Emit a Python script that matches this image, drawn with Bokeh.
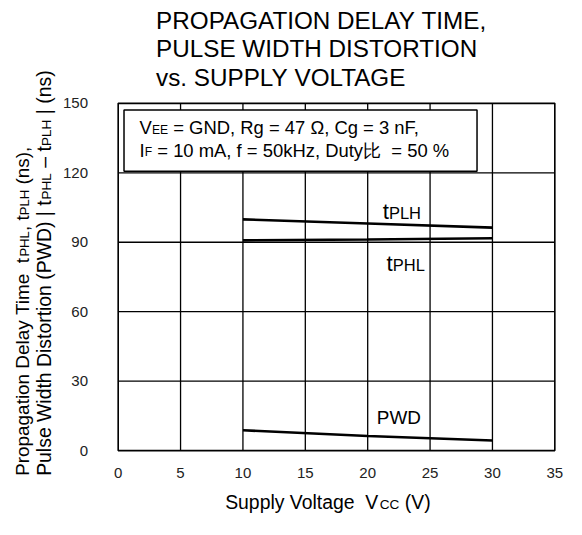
import math
from bokeh.plotting import figure
from bokeh.models import Range1d
from bokeh.core.properties import value
from bokeh.embed import file_html
from bokeh.resources import INLINE

# ---- data ----
vcc = [10, 20, 30]
t_plh = [99.9, 98.1, 96.3]
t_phl = [90.8, 91.2, 91.7]
pwd = [8.8, 6.3, 4.4]
x_ticks = [0, 5, 10, 15, 20, 25, 30, 35]
y_ticks = [0, 30, 60, 90, 120, 150]

title_lines = ["PROPAGATION DELAY TIME,", "PULSE WIDTH DISTORTION", "vs. SUPPLY VOLTAGE"]

# ---- layout ----
W, H = 566, 519                  # canvas size (fits the window with its 8px margin)
KX, KY = W / 582.0, H / 535.0    # layout is designed on a 582x535 grid, then scaled
KF = min(KX, KY)                 # font scale
FL, FR, FT, FB = 121, 570, 106, 464   # plot frame edges on the design grid
XMIN, XMAX, YMIN, YMAX = 0, 35, 0, 150
sx = (FR - FL) * KX / (XMAX - XMIN)
sy = (FB - FT) * KY / (YMAX - YMIN)
MID = 0.3465                     # em distance from baseline to the middle of the em box


def px2x(px):            # design-grid x -> data x
    return XMIN + (px * KX - FL * KX) / sx


def py2y(py):            # design-grid y -> data y
    return YMIN + (FB * KY - py * KY) / sy


def fs(size):
    return f"{size * KF:.2f}px"


AW = {' ': 278, '\u00a0': 278, '!': 278, '(': 333, ')': 333, ',': 278, '-': 333, '.': 278,
      '|': 260, '=': 584, '%': 889, '\u03a9': 768, '\u2013': 556, '\u2212': 584}
for c in '0123456789':
    AW[c] = 556
AW.update(dict(zip('ABCDEFGHIJKLMNOPQRSTUVWXYZ',
                   [667, 667, 722, 722, 667, 611, 778, 722, 278, 500, 667, 556, 833,
                    722, 778, 667, 778, 722, 667, 611, 722, 667, 944, 667, 667, 611])))
AW.update(dict(zip('abcdefghijklmnopqrstuvwxyz',
                   [556, 556, 500, 556, 556, 278, 556, 556, 222, 222, 500, 222, 833,
                    556, 556, 556, 556, 333, 500, 278, 556, 500, 722, 500, 500, 500])))


def twidth(s, size):     # width on the design grid
    return sum(AW.get(c, 1000) for c in s) * size / 1000.0


FONT = "Liberation Sans"

p = figure(width=W, height=H, output_backend="svg", toolbar_location=None,
           x_range=Range1d(px2x(0), px2x(582)), y_range=Range1d(py2y(535), py2y(0)),
           min_border=0, x_axis_location=None, y_axis_location=None)
p.grid.visible = False
p.outline_line_color = None
p.background_fill_color = "white"
p.border_fill_color = "white"

# grid lines
inner_x = x_ticks[1:-1]
inner_y = y_ticks[1:-1]
p.segment(x0=inner_x, y0=[YMIN] * len(inner_x), x1=inner_x, y1=[YMAX] * len(inner_x),
          line_color="black", line_width=1.3)
p.segment(x0=[XMIN] * len(inner_y), y0=inner_y, x1=[XMAX] * len(inner_y), y1=inner_y,
          line_color="black", line_width=1.3)
# frame
p.quad(left=[XMIN], right=[XMAX], bottom=[YMIN], top=[YMAX], fill_color=None,
       line_color="black", line_width=1.6)

# curves
for ys in (t_plh, t_phl, pwd):
    p.line(vcc, ys, line_color="black", line_width=2.6)

# legend box
p.quad(left=[px2x(127)], right=[px2x(490)], top=[py2y(113)], bottom=[py2y(176)],
       fill_color="white", line_color="black", line_width=1.5)

# tick labels
p.text(x=x_ticks, y=[py2y(487)] * len(x_ticks), text=[str(t) for t in x_ticks],
       text_font=value(FONT), text_font_size=fs(15.5), text_color="#222222",
       text_align="center", text_baseline="middle")
p.text(x=[px2x(90)] * len(y_ticks), y=y_ticks, text=[str(t) for t in y_ticks],
       text_font=value(FONT), text_font_size=fs(15.5), text_color="#222222",
       text_align="right", text_baseline="middle")


def nb(s):
    return s.replace(' ', '\u00a0')


def hpieces(pieces, px, baseline):
    """Pieces of text sharing one baseline (design-grid px)."""
    for txt, size in pieces:
        p.text(x=[px2x(px)], y=[py2y(baseline - MID * size)], text=[nb(txt)],
               text_font=value(FONT), text_font_size=fs(size), text_color="black",
               text_align="left", text_baseline="middle")
        px += twidth(txt, size)


def vpieces(pieces, baseline_x, py):
    """Pieces of text rotated 90 degrees, reading upwards, sharing one baseline."""
    for txt, size in pieces:
        p.text(x=[px2x(baseline_x - MID * size)], y=[py2y(py)], text=[nb(txt)],
               text_font=value(FONT), text_font_size=fs(size), text_color="black",
               angle=math.pi / 2, text_align="left", text_baseline="middle")
        py -= twidth(txt, size) * KX / KY


# title
for i, line in enumerate(title_lines):
    hpieces([(line, 25)], 160, 29 + i * 29.5)

# legend text
hpieces([("V", 19), ("EE", 12.5), (" = GND, Rg = 47 \u03a9, Cg = 3 nF,", 19)], 143, 138)
hpieces([("I", 19), ("F", 12.5), (" = 10 mA, f = 50kHz, Duty\u6bd4  = 50 %", 19)], 143, 161)

# curve labels
hpieces([("t", 23), ("PLH", 17)], 393, 225)
hpieces([("t", 23), ("PHL", 17)], 397, 279)
hpieces([("PWD", 19.5)], 387, 437)

# axis labels
hpieces([("Supply Voltage  V", 20), ("CC", 14), (" (V)", 20)], 231, 524)
vpieces([("Propagation Delay Time  t", 19.5), ("PHL", 13.5), (", t", 19.5), ("PLH", 13.5),
         (" (ns),", 19.5)], 29, 490)
vpieces([("Pulse Width Distortion (PWD) | t", 20), ("PHL", 14), (" \u2013 t", 20),
         ("PLH", 14), (" | (ns)", 20)], 52, 490)

open("out.html", "w").write(file_html(p, INLINE))
